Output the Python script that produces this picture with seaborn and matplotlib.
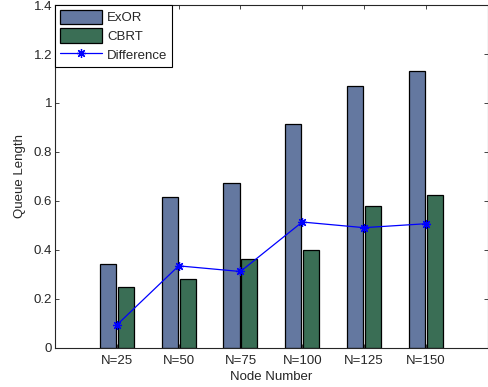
import numpy as np
import pandas as pd
import matplotlib
matplotlib.use("Agg")
import matplotlib.pyplot as plt
import seaborn as sns

# values
nodes = ["N=25", "N=50", "N=75", "N=100", "N=125", "N=150"]
exor = [0.342, 0.615, 0.673, 0.914, 1.069, 1.131]
cbrt = [0.248, 0.280, 0.363, 0.400, 0.578, 0.624]
difference = [0.094, 0.335, 0.312, 0.514, 0.491, 0.507]

sns.set_style("ticks")
plt.rcParams["font.family"] = ["Liberation Sans", "DejaVu Sans"]
plt.rcParams["xtick.direction"] = "in"
plt.rcParams["ytick.direction"] = "in"

df = pd.DataFrame({
    "Node": nodes * 2,
    "Queue": exor + cbrt,
    "Scheme": ["ExOR"] * len(nodes) + ["CBRT"] * len(nodes),
})

fig = plt.figure(figsize=(4.88, 3.87), dpi=100)
ax = fig.add_axes([0.113, 0.101, 0.886, 0.886])

sns.barplot(data=df, x="Node", y="Queue", hue="Scheme",
            palette={"ExOR": "#6478a0", "CBRT": "#3a6e55"},
            width=0.58, gap=0.1, edgecolor="black", linewidth=0.9,
            saturation=1, ax=ax)
sns.lineplot(x=np.arange(len(nodes)), y=difference, color="blue",
             marker=(8, 2, 0), markersize=6.5, markeredgecolor="blue",
             markeredgewidth=0.9, linewidth=0.9, label="Difference", ax=ax)

ax.set_xlim(-1, 6)
ax.set_ylim(0, 1.4)
ax.set_yticks(np.arange(0, 1.41, 0.2))
ax.set_yticklabels(["0", "0.2", "0.4", "0.6", "0.8", "1", "1.2", "1.4"])
ax.tick_params(top=True, right=True, labelsize=9.5, length=3, width=0.6, pad=2)
ax.tick_params(axis="x", pad=5)
for s in ax.spines.values():
    s.set_visible(True)
    s.set_linewidth(0.8)
ax.set_xlabel("Node Number", fontsize=9.5, labelpad=3)
ax.set_ylabel("Queue Length", fontsize=9.5, labelpad=6)

leg = ax.legend(loc="upper left", borderaxespad=0, fontsize=9.5,
                fancybox=False, edgecolor="black", framealpha=1,
                handlelength=3.2, handleheight=1.35, labelspacing=0.3,
                borderpad=0.35, handletextpad=0.4)
leg.get_frame().set_linewidth(0.8)

fig.savefig("out.png", dpi=100)
